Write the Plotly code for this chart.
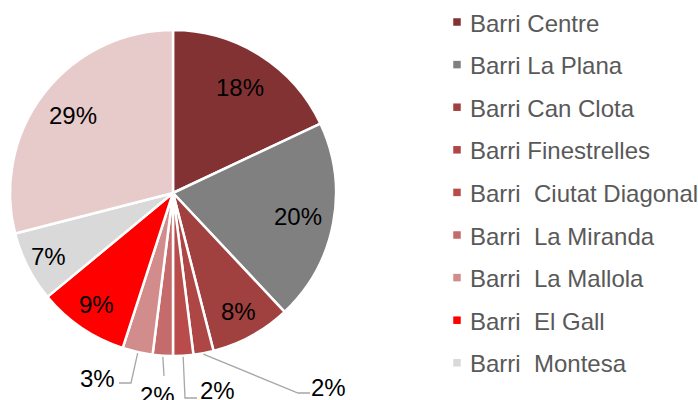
import math
import plotly.graph_objects as go

# ---- data ----
categories = [
    "Barri Centre", "Barri La Plana", "Barri Can Clota", "Barri Finestrelles",
    "Barri  Ciutat Diagonal", "Barri  La Miranda", "Barri  La Mallola",
    "Barri  El Gall", "Barri  Montesa", "Barri  Can Vidalet",
]
values = [18, 20, 8, 2, 2, 2, 3, 9, 7, 29]
colors = ["#833234", "#808080", "#A0403F", "#AD4645", "#B94C4B",
          "#C66B6B", "#D38C8C", "#FF0000", "#D9D9D9", "#E7CACA"]
legend_count = 9  # last category falls outside the visible legend area

# ---- layout constants (window pixels) ----
W, H = 698, 400
CX, CY, R = 173, 193, 163
FONT = "Liberation Sans, Arial, sans-serif"
label_radius = [0.77, 0.78, 0.83, 0, 0, 0, 0, 0.83, 0.86, 0.78]

def px(x):
    return x / W

def py(y):
    return 1 - y / H

fig = go.Figure()
fig.add_trace(go.Pie(
    labels=categories, values=values, sort=False, direction="clockwise",
    rotation=0, marker=dict(colors=colors, line=dict(color="white", width=2.5)),
    textinfo="none", hoverinfo="label+percent", showlegend=False,
    domain=dict(x=[px(CX - R), px(CX + R)], y=[py(CY + R), py(CY - R)]),
))

annotations = []
shapes = []
total = sum(values)
mids = []
cum = 0
for v in values:
    mids.append((cum + v / 2) / total * 2 * math.pi)
    cum += v

small = {3, 4, 5, 6}
for i, v in enumerate(values):
    if i in small:
        continue
    a = mids[i]
    x = CX + label_radius[i] * R * math.sin(a)
    y = CY - label_radius[i] * R * math.cos(a)
    annotations.append(dict(x=px(x), y=py(y), xref="paper", yref="paper",
                            text=f"{round(v / total * 100)}%", showarrow=False,
                            font=dict(family=FONT, size=24, color="black"),
                            xanchor="center", yanchor="middle"))

# outside labels with leader lines: (elbow, end, text centre)
outside = {
    3: ((298, 393), (310, 393), (328, 387)),
    4: ((185, 398), (197, 398), (217, 390)),
    5: ((164, 376), (164, 376), (157, 395)),
    6: ((131, 383), (119, 383), (97, 378)),
}
for i, (elbow, end, tc) in outside.items():
    a = mids[i]
    sx = CX + (R - 1) * math.sin(a)
    sy = CY - (R - 1) * math.cos(a) + 2
    path = f"M {px(sx)} {py(sy)} L {px(elbow[0])} {py(elbow[1])} L {px(end[0])} {py(end[1])}"
    shapes.append(dict(type="path", xref="paper", yref="paper", path=path,
                       line=dict(color="#A6A6A6", width=1.3)))
    annotations.append(dict(x=px(tc[0]), y=py(tc[1]), xref="paper", yref="paper",
                            text=f"{round(values[i] / total * 100)}%", showarrow=False,
                            font=dict(family=FONT, size=24, color="black"),
                            xanchor="center", yanchor="middle"))

# custom legend
LX_MARK, LX_TEXT, LY0, LDY, MS = 457, 469, 22, 42.6, 7.5
for i in range(legend_count):
    y = LY0 + i * LDY
    shapes.append(dict(type="rect", xref="paper", yref="paper",
                       x0=px(LX_MARK - MS / 2), x1=px(LX_MARK + MS / 2),
                       y0=py(y + MS / 2), y1=py(y - MS / 2),
                       fillcolor=colors[i], line=dict(width=0)))
    annotations.append(dict(x=px(LX_TEXT - 1), y=py(y + 1), xref="paper", yref="paper",
                            text=categories[i].replace("  ", "\u00a0 "),
                            showarrow=False, xanchor="left", yanchor="middle",
                            font=dict(family=FONT, size=24, color="#595959")))

fig.update_layout(width=W, height=H, margin=dict(l=0, r=0, t=0, b=0),
                  paper_bgcolor="white", plot_bgcolor="white",
                  annotations=annotations, shapes=shapes, showlegend=False)
fig.write_html("out.html", config={"displayModeBar": False},
               post_script="document.body.style.margin='0';document.body.style.overflow='hidden';")
